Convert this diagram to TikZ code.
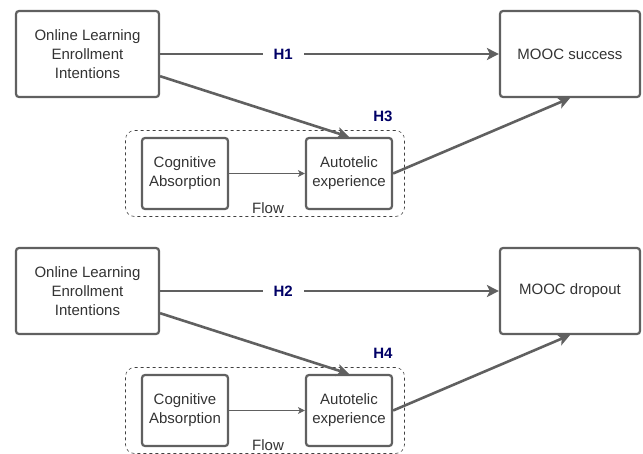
\documentclass[tikz,border=0pt]{standalone}
\usepackage{fontspec}
\setmainfont{Liberation Sans}
\usetikzlibrary{arrows.meta}
\definecolor{linegray}{HTML}{606060}
\definecolor{hblue}{HTML}{000066}
\tikzset{
  box/.style={draw=linegray, line width=2.2pt, rounded corners=3pt, align=center, inner sep=0pt, text=black!80},
  flowbox/.style={draw=black!75, dashed, line width=0.6pt, rounded corners=9pt, inner sep=0pt},
  mainarrow/.style={draw=linegray, line width=2.6pt, -{Stealth[length=12pt,width=12pt,inset=3pt]}},
  thinarrow/.style={draw=linegray, line width=0.9pt, -{Stealth[length=7pt,width=7pt,inset=2pt]}},
  hlabel/.style={font=\fontsize{15}{19}\selectfont\bfseries, text=hblue, fill=white, inner xsep=11pt, inner ysep=2pt}
}
\begin{document}
\begin{tikzpicture}[x=1pt,y=-1pt,font=\fontsize{15}{19}\selectfont]
\useasboundingbox (0,0) rectangle (643,453);
\foreach \s/\dy/\outcome/\hmain/\hflow in {a/0/MOOC success/H1/H3, b/237/MOOC dropout/H2/H4} {
\begin{scope}[yshift=-\dy pt]
\node[flowbox, minimum width=279pt, minimum height=86pt] (flow\s) at (265,173.5) {};
\node[box, minimum width=143pt, minimum height=86pt] (olei\s) at (87.5,54) {Online Learning\\Enrollment\\Intentions};
\node[box, minimum width=140pt, minimum height=86pt] (succ\s) at (570,54) {\outcome};
\node[box, minimum width=86pt, minimum height=71pt] (cog\s) at (185,173.5) {Cognitive\\Absorption};
\node[box, minimum width=86pt, minimum height=71pt] (auto\s) at (349,173.5) {Autotelic\\experience};
\node[text=black!80] (flowlbl\s) at (268,208) {Flow};
\node[hlabel, fill=none] (hf\s) at (383,116) {\hflow};
\draw[mainarrow] (olei\s) -- node[hlabel, pos=0.363] (hm\s) {\hmain} (succ\s);
\draw[mainarrow] (olei\s.-17) -- (auto\s.north);
\draw[mainarrow] (auto\s.east) -- (succ\s.south);
\draw[thinarrow] (cog\s) -- (auto\s);
\end{scope}
}
\end{tikzpicture}
\end{document}
